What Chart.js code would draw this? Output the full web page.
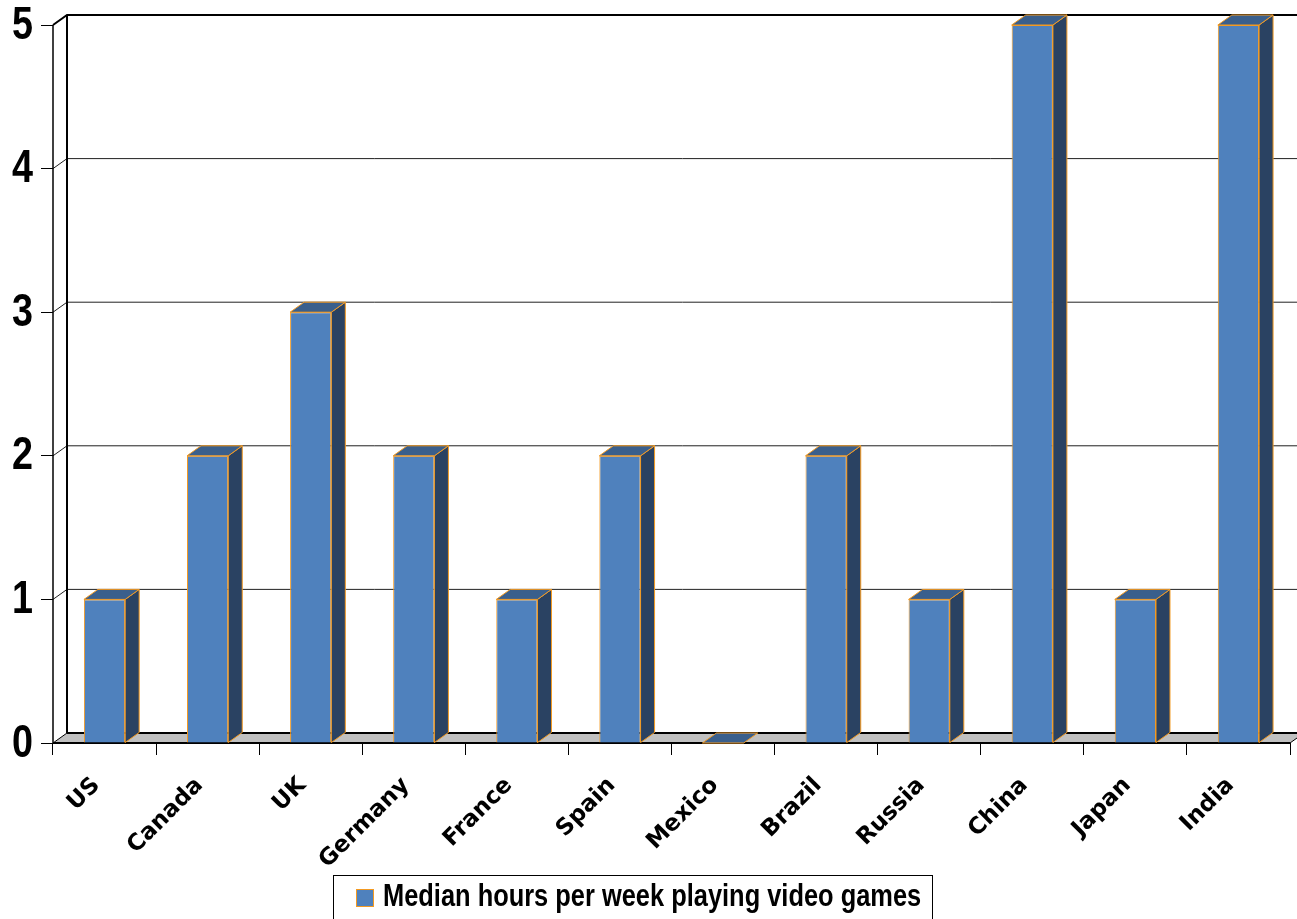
<!DOCTYPE html>
<html>
<head>
<meta charset="utf-8">
<title>Median hours per week playing video games</title>
<script src="https://cdn.jsdelivr.net/npm/chart.js@4/dist/chart.umd.min.js"></script>
<style>
  html, body { margin: 0; padding: 0; background: #ffffff; }
  #wrap { width: 1297px; height: 919px; position: relative; }
</style>
</head>
<body>
<div id="wrap"><canvas id="chart" width="1297" height="919"></canvas></div>
<script>
// Countries along the category axis
const countries = ['US', 'Canada', 'UK', 'Germany', 'France', 'Spain', 'Mexico', 'Brazil', 'Russia', 'China', 'Japan', 'India'];
// Median hours per week spent playing video games
const medianHours = [1, 2, 3, 2, 1, 2, 0, 2, 1, 5, 1, 5];
// Value axis ticks
const yTicks = [0, 1, 2, 3, 4, 5];
const seriesLabel = 'Median hours per week playing video games';

const FRONT = '#4F81BD';
const SIDE = '#2A4262';
const TOP = '#3A5F8C';
const EDGE = '#F39A22';
const FLOOR = '#C0C0C0';
const DEPTH_X = 14;
const DEPTH_Y = -10;
const SANS = '"Liberation Sans", Arial, sans-serif';
const CONDENSE = 0.82;

function poly(ctx, pts) {
  ctx.beginPath();
  ctx.moveTo(pts[0][0], pts[0][1]);
  for (let i = 1; i < pts.length; i++) ctx.lineTo(pts[i][0], pts[i][1]);
  ctx.closePath();
}

// narrow bold lettering: regular sans squeezed horizontally
function condensedText(ctx, text, x, y, size, align) {
  ctx.save();
  ctx.translate(x, y);
  ctx.scale(CONDENSE, 1);
  ctx.font = 'bold ' + size + 'px ' + SANS;
  ctx.textAlign = align;
  ctx.textBaseline = 'middle';
  ctx.fillStyle = '#000000';
  ctx.fillText(text, 0, 0);
  ctx.restore();
}

// Back wall, left wall and floor of the 3D box, placed from the value scale
const boxFrame = {
  id: 'boxFrame',
  beforeDatasetsDraw(chart) {
    const ctx = chart.ctx;
    const y = chart.scales.y;
    const L = chart.chartArea.left, R = chart.chartArea.right;
    const yTop = y.getPixelForValue(yTicks[yTicks.length - 1]);
    const yZero = y.getPixelForValue(0);
    ctx.save();
    // grid lines on the back wall, bent across the left wall
    yTicks.forEach(v => {
      if (v === 0) return;
      const py = y.getPixelForValue(v);
      const isTop = v === yTicks[yTicks.length - 1];
      ctx.strokeStyle = isTop ? '#000000' : '#202020';
      ctx.lineWidth = isTop ? 2 : 1;
      ctx.beginPath();
      ctx.moveTo(L, py);
      ctx.lineTo(L + DEPTH_X, py + DEPTH_Y);
      ctx.lineTo(R + DEPTH_X + 20, py + DEPTH_Y);
      ctx.stroke();
    });
    // back wall left edge
    ctx.strokeStyle = '#000000';
    ctx.lineWidth = 2;
    ctx.beginPath();
    ctx.moveTo(L + DEPTH_X, yTop + DEPTH_Y);
    ctx.lineTo(L + DEPTH_X, yZero + DEPTH_Y);
    ctx.stroke();
    // floor
    poly(ctx, [[L, yZero], [R, yZero], [R + DEPTH_X, yZero + DEPTH_Y], [L + DEPTH_X, yZero + DEPTH_Y]]);
    ctx.fillStyle = FLOOR;
    ctx.fill();
    ctx.lineWidth = 1;
    ctx.strokeStyle = '#000000';
    ctx.stroke();
    ctx.lineWidth = 2;
    ctx.beginPath();
    ctx.moveTo(L + DEPTH_X, yZero + DEPTH_Y);
    ctx.lineTo(R + DEPTH_X + 20, yZero + DEPTH_Y);
    ctx.moveTo(L, yZero);
    ctx.lineTo(R, yZero);
    ctx.stroke();
    // front value axis line
    ctx.lineWidth = 1.5;
    ctx.beginPath();
    ctx.moveTo(L, yTop);
    ctx.lineTo(L, yZero);
    ctx.stroke();
    ctx.restore();
  },
  // side and top faces of each bar, taken from the bar elements
  afterDatasetsDraw(chart) {
    const ctx = chart.ctx;
    const meta = chart.getDatasetMeta(0);
    ctx.save();
    ctx.lineWidth = 1;
    ctx.strokeStyle = EDGE;
    ctx.lineJoin = 'miter';
    meta.data.forEach(bar => {
      const p = bar.getProps(['x', 'y', 'base', 'width'], true);
      const left = p.x - p.width / 2, right = p.x + p.width / 2;
      const top = Math.min(p.y, p.base), bottom = Math.max(p.y, p.base);
      if (bottom - top > 0.5) {
        poly(ctx, [[right, top], [right + DEPTH_X, top + DEPTH_Y], [right + DEPTH_X, bottom + DEPTH_Y], [right, bottom]]);
        ctx.fillStyle = SIDE;
        ctx.fill();
        ctx.stroke();
      }
      poly(ctx, [[left, top], [left + DEPTH_X, top + DEPTH_Y], [right + DEPTH_X, top + DEPTH_Y], [right, top]]);
      ctx.fillStyle = TOP;
      ctx.fill();
      ctx.stroke();
    });
    ctx.restore();
  },
  afterDraw(chart) {
    const ctx = chart.ctx;
    const y = chart.scales.y;
    // value labels beside the front axis ticks
    y.ticks.forEach(t => {
      condensedText(ctx, String(t.value), chart.chartArea.left - 20, y.getPixelForValue(t.value) + 1, 46, 'right');
    });
    // boxed legend under the category labels
    const ds = chart.data.datasets[0];
    ctx.save();
    ctx.strokeStyle = '#000000';
    ctx.lineWidth = 1;
    ctx.strokeRect(333.5, 875.5, 599, 60);
    ctx.fillStyle = ds.backgroundColor;
    ctx.fillRect(356, 889, 18, 18);
    ctx.strokeStyle = ds.borderColor;
    ctx.strokeRect(356.5, 889.5, 17, 17);
    ctx.restore();
    condensedText(ctx, ds.label, 383, 897, 31, 'left');
  }
};

new Chart(document.getElementById('chart'), {
  type: 'bar',
  data: {
    labels: countries,
    datasets: [{
      label: seriesLabel,
      data: medianHours,
      backgroundColor: FRONT,
      borderColor: EDGE,
      borderWidth: 1,
      barPercentage: 0.4,
      categoryPercentage: 1.0
    }]
  },
  options: {
    responsive: false,
    animation: false,
    layout: { padding: { top: 25, right: 7, left: 0, bottom: 0 } },
    plugins: {
      legend: { display: false },
      tooltip: { enabled: false }
    },
    scales: {
      x: {
        offset: true,
        grid: { display: true, offset: true, drawOnChartArea: false, drawTicks: true, tickLength: 12, color: '#000000', lineWidth: 1 },
        border: { display: false },
        ticks: {
          minRotation: 45,
          maxRotation: 45,
          autoSkip: false,
          padding: 17,
          labelOffset: -8,
          color: '#000000',
          font: { family: '"DejaVu Sans", sans-serif', size: 23, weight: 'bold' }
        },
        afterFit(scale) { scale.height = 176; }
      },
      y: {
        min: 0,
        max: 5,
        grid: { display: true, drawOnChartArea: false, drawTicks: true, tickLength: 12, color: '#000000', lineWidth: 1 },
        border: { display: false },
        ticks: { display: false, stepSize: 1 },
        afterFit(scale) { scale.width = 53; }
      }
    }
  },
  plugins: [boxFrame]
});
</script>
</body>
</html>
